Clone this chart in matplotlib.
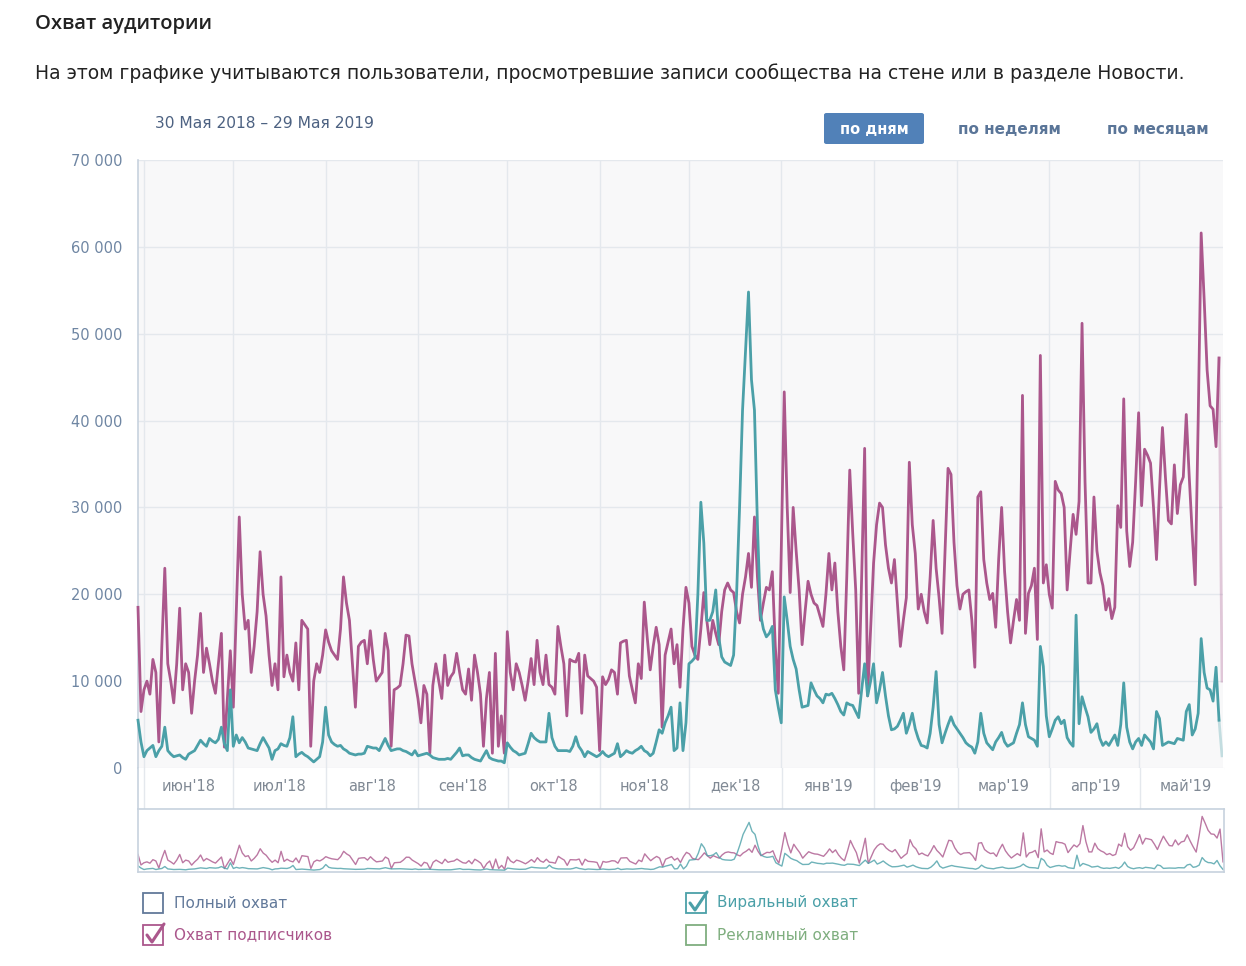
import numpy as np
import pandas as pd
import matplotlib
matplotlib.use("Agg")
import matplotlib.pyplot as plt
from matplotlib.patches import Rectangle, FancyBboxPatch
from matplotlib.lines import Line2D

W, H = 1246, 966

start_date = "2018-05-30"

# daily reach of subscribers, thousands (30 May 2018 .. 29 May 2019)
subscribers_k = [
    18.5, 6.5, 9, 10, 8.5, 12.5, 11, 3, 14, 23,
    12, 10, 7.5, 12, 18.4, 9, 12, 11, 6.3, 10,
    13, 17.8, 11, 13.8, 12, 10, 8.6, 12, 15.5, 2.4,
    8, 13.5, 7, 18, 28.9, 20, 16, 17, 11, 14,
    18, 24.9, 20, 17.5, 13, 9.5, 12, 9, 22, 10.5,
    13, 11, 10, 14.4, 9, 17, 16.5, 16, 2.5, 10,
    12, 11, 13, 15.9, 14.5, 13.5, 13, 12.5, 16, 22,
    19, 17, 12, 7, 14, 14.5, 14.7, 12, 15.8, 12.5,
    10, 10.5, 11, 15.5, 13.5, 2.5, 9, 9.2, 9.5, 12,
    15.3, 15.2, 12, 10, 8, 5.2, 9.5, 8.5, 1.7, 9.5,
    12, 10, 8, 13, 9.5, 10.5, 11, 13.2, 11, 9,
    8.5, 11.4, 7.8, 13, 11, 8.5, 2.5, 8, 11, 1.7,
    13.2, 2.5, 6, 1.7, 15.7, 11, 9, 12, 11, 9.5,
    7.8, 10, 12.6, 9.6, 14.7, 11, 9.6, 13, 9.6, 9.3,
    8.5, 16.3, 14, 12, 6, 12.5, 12.3, 12.2, 13.2, 6.3,
    13, 10.6, 10.3, 10, 9.3, 2, 10.5, 9.6, 10.2, 11.3,
    11, 8.5, 14.4, 14.6, 14.7, 10.6, 9, 7.5, 12, 10.3,
    19.1, 15, 11.3, 14, 16.2, 14.2, 4.7, 13, 14.5, 16,
    12, 14.2, 9.3, 16, 20.8, 19, 14, 13, 12.5, 16,
    20.2, 17, 14.2, 17, 15.5, 14.2, 18, 20.5, 21.3, 20.5,
    20.2, 18, 16.7, 20, 22, 24.7, 20.8, 28.9, 22, 17,
    19, 20.8, 20.5, 22.6, 14, 8.6, 25, 43.3, 30, 20.2,
    30, 25, 20.5, 14.2, 18, 21.5, 20, 19, 18.7, 17.5,
    16.3, 20, 24.7, 20.5, 23.6, 18, 14, 11.3, 22, 34.3,
    27, 20.5, 8.6, 22, 36.8, 8.3, 16, 23.6, 28, 30.5,
    30, 25.7, 23, 21.3, 24, 19, 14, 17, 19.6, 35.2,
    28, 24.7, 18.3, 20, 18, 16.7, 22, 28.5, 23, 19.6,
    15.5, 25, 34.5, 33.8, 26, 21, 18.3, 20, 20.3, 20.5,
    17, 11.6, 31.2, 31.8, 24, 21.3, 19.4, 20.1, 16.2, 24,
    30, 22.6, 18, 14.4, 17, 19.4, 17, 42.9, 15.5, 20.1,
    21, 23, 14.8, 47.5, 21.3, 23.4, 20, 18.4, 33, 32,
    31.6, 30, 20.5, 25, 29.2, 26.9, 30.7, 51.2, 33, 21.3,
    21.3, 31.2, 25, 22.5, 21, 18.2, 19.5, 17.2, 18.5, 30.2,
    27.7, 42.5, 27.3, 23.2, 26, 33, 40.9, 30.2, 36.7, 36,
    35.1, 30, 24, 32, 39.2, 33.5, 28.5, 28.1, 34.9, 29.3,
    32.6, 33.5, 40.7, 33.5, 27, 21.1, 40, 61.6, 54, 45.8,
    41.7, 41.3, 37, 47.2, 10,
]

# daily viral reach, thousands
viral_k = [
    5.5, 3, 1.3, 2, 2.3, 2.6, 1.3, 2, 2.5, 4.7,
    2, 1.6, 1.3, 1.4, 1.5, 1.2, 1, 1.6, 1.8, 2,
    2.6, 3.2, 2.8, 2.5, 3.4, 3.1, 2.9, 3.3, 4.7, 2.8,
    2, 9, 2.5, 3.8, 2.9, 3.5, 3, 2.3, 2.2, 2.1,
    2, 2.8, 3.5, 2.9, 2.3, 1, 2, 2.2, 2.8, 2.6,
    2.5, 3.5, 5.9, 1.3, 1.6, 1.8, 1.5, 1.3, 1, 0.7,
    1, 1.3, 3, 7, 3.8, 3, 2.7, 2.5, 2.6, 2.2,
    2, 1.7, 1.6, 1.5, 1.6, 1.6, 1.7, 2.5, 2.4, 2.3,
    2.3, 2, 2.7, 3.4, 2.6, 2, 2.1, 2.2, 2.2, 2,
    1.9, 1.7, 1.5, 2, 1.4, 1.5, 1.6, 1.7, 1.5, 1.2,
    1.1, 1, 1, 1, 1.1, 1, 1.4, 1.8, 2.3, 1.4,
    1.5, 1.5, 1.2, 1, 0.9, 0.8, 1.4, 2, 1.2, 1,
    0.9, 0.8, 0.8, 0.6, 2.9, 2.4, 2, 1.8, 1.5, 1.6,
    1.7, 2.8, 4, 3.5, 3.2, 3, 3, 3, 6.3, 3.5,
    2.5, 2, 2, 2, 2, 1.9, 2.5, 3.6, 2.5, 2,
    1.3, 1.9, 1.7, 1.5, 1.3, 1.5, 1.9, 1.5, 1.3, 1.5,
    1.7, 2.8, 1.3, 1.6, 2, 1.8, 1.7, 2, 2.2, 2.5,
    2, 1.8, 1.4, 1.7, 3, 4.4, 4, 5.2, 6, 7,
    2, 2.3, 7.5, 2, 5.2, 12, 12.3, 12.7, 20, 30.6,
    25.9, 17, 17, 18, 20.5, 15.1, 12.8, 12.2, 12, 11.8,
    13, 20, 30, 41.2, 48, 54.8, 44.7, 41.2, 28, 17.8,
    16, 15.1, 15.5, 16.3, 9, 7, 5.2, 19.7, 17, 14,
    12.5, 11.4, 9, 7, 7.1, 7.2, 9.8, 9, 8.3, 8,
    7.5, 8.5, 8.4, 8.6, 8, 7.3, 6.5, 6.1, 7.5, 7.3,
    7.2, 6.5, 5.8, 9, 12, 8.3, 10, 12, 7.5, 9,
    11, 8.3, 6, 4.4, 4.5, 4.8, 5.5, 6.3, 4, 5,
    6.3, 4.5, 3.4, 2.6, 2.5, 2.3, 4, 7, 11.1, 5,
    2.9, 4, 5, 5.9, 5, 4.5, 4, 3.5, 2.9, 2.6,
    2.4, 1.7, 3, 6.3, 4, 2.9, 2.5, 2.1, 3, 3.5,
    4.1, 3, 2.5, 2.7, 2.9, 4, 5, 7.5, 5, 3.6,
    3.4, 3.2, 2.5, 14, 11.7, 6, 3.6, 4.5, 5.5, 5.9,
    5.1, 5.5, 3.5, 2.9, 2.5, 17.6, 5.1, 8.2, 7, 5.9,
    4.1, 4.5, 5.1, 3.4, 2.6, 3, 2.6, 3.2, 3.8, 2.6,
    5, 9.8, 4.7, 3, 2.2, 3, 3.4, 2.6, 3.8, 3.4,
    3, 2.2, 6.5, 5.7, 2.6, 2.8, 3, 2.9, 2.8, 3.4,
    3.3, 3.2, 6.5, 7.3, 3.8, 4.5, 6.3, 14.9, 11, 9.2,
    9, 7.7, 11.6, 5.5, 1.4,
]

month_labels = ["июн'18", "июл'18", "авг'18", "сен'18", "окт'18", "ноя'18",
                "дек'18", "янв'19", "фев'19", "мар'19", "апр'19", "май'19"]
y_ticks = [0, 10000, 20000, 30000, 40000, 50000, 60000, 70000]
y_tick_labels = ["0", "10 000", "20 000", "30 000", "40 000", "50 000", "60 000", "70 000"]

legend_items = ["Полный охват", "Охват подписчиков", "Виральный охват", "Рекламный охват"]

PINK = "#ab578c"
TEAL = "#4ba0a8"
GRID = "#e4e8ed"
AXIS = "#c7d2de"


def rect(x0, y0, x1, y1):
    # pixel box (top-left origin) -> figure fraction
    return [x0 / W, 1 - y1 / H, (x1 - x0) / W, (y1 - y0) / H]


def fx(x):
    return x / W


def fy(y):
    return 1 - y / H


dates = pd.date_range(start_date, periods=len(subscribers_k), freq="D")
subs = np.array(subscribers_k) * 1000
viral = np.array(viral_k) * 1000

month_starts = pd.date_range("2018-06-01", "2019-05-01", freq="MS")
month_mids = [m + pd.Timedelta(days=m.days_in_month / 2) for m in month_starts]
xlim = (dates[0], dates[-1] + pd.Timedelta(hours=8))

fig = plt.figure(figsize=(W / 100, H / 100), dpi=100)
fig.patch.set_facecolor("white")

# main chart
ax = fig.add_axes(rect(138, 160, 1223, 768))
ax.set_facecolor("#f8f8f9")
ax.set_xlim(xlim)
ax.set_ylim(0, 70000)
for m in month_starts:
    ax.axvline(m, color=GRID, lw=1, zorder=0)
for t in y_ticks[1:]:
    ax.axhline(t, color=GRID, lw=1, zorder=0)
ax.plot(dates[:-1], subs[:-1], color=PINK, lw=2.0, zorder=3, solid_joinstyle="round", clip_on=False)
ax.plot(dates[-2:], subs[-2:], color=PINK, lw=2.0, alpha=0.3, zorder=3)
ax.plot(dates[:-1], viral[:-1], color=TEAL, lw=2.0, zorder=4, solid_joinstyle="round", clip_on=False)
ax.plot(dates[-2:], viral[-2:], color=TEAL, lw=2.0, alpha=0.3, zorder=4)
ax.set_yticks(y_ticks)
ax.set_yticklabels(y_tick_labels)
ax.set_xticks([])
ax.tick_params(axis="y", length=0, pad=11, labelsize=10.5, labelcolor="#6f86a3")
for s in ["top", "right"]:
    ax.spines[s].set_visible(False)
ax.spines["left"].set_color(AXIS)
ax.spines["left"].set_linewidth(1.2)
ax.spines["bottom"].set_color("#e1e5ea")

# month label band
band = fig.add_axes(rect(138, 768, 1224, 809))
band.set_facecolor("white")
band.set_xlim(xlim)
band.set_ylim(0, 1)
for m in month_starts:
    band.axvline(m, color=GRID, lw=1)
for mid, lab in zip(month_mids, month_labels):
    band.text(mid, 0.56, lab, ha="center", va="center", fontsize=10.5, color="#808994")
band.set_xticks([])
band.set_yticks([])
for s in ["top", "right"]:
    band.spines[s].set_visible(False)
band.spines["left"].set_color(AXIS)
band.spines["left"].set_linewidth(1.2)
band.spines["bottom"].set_color(AXIS)

# navigator
nav = fig.add_axes(rect(138, 809, 1224, 872))
nav.set_facecolor("white")
nav.set_xlim(xlim)
nav.set_ylim(-1500, 70000)
nav.plot(dates, subs, color=PINK, lw=1.0, alpha=0.8)
nav.plot(dates, viral, color=TEAL, lw=1.0, alpha=0.8)
nav.set_xticks([])
nav.set_yticks([])
for s in nav.spines.values():
    s.set_color(AXIS)
    s.set_linewidth(1.2)

# header
fig.text(fx(35), fy(24), "Охват аудитории", fontsize=14.5, fontweight="semibold",
         family="Open Sans", color="#222222", va="center")
fig.text(fx(35), fy(73), "На этом графике учитываются пользователи, просмотревшие записи "
         "сообщества на стене или в разделе Новости.", fontsize=13.5, family="DejaVu Sans",
         color="#222222", va="center")
fig.text(fx(155), fy(124), "30 Мая 2018 – 29 Мая 2019", fontsize=11.2,
         color="#4d6282", va="center")

# period buttons
fig.patches.append(FancyBboxPatch((fx(824), fy(144)), fx(924) - fx(824), fy(113) - fy(144),
                                  boxstyle="round,pad=0,rounding_size=0.002",
                                  transform=fig.transFigure, facecolor="#5181b8",
                                  edgecolor="none"))
fig.text(fx(874), fy(129), "по дням", fontsize=10.5, fontweight="bold", color="white",
         ha="center", va="center")
fig.text(fx(1009), fy(129), "по неделям", fontsize=11, fontweight="bold",
         color="#5a7598", ha="center", va="center")
fig.text(fx(1158), fy(129), "по месяцам", fontsize=11, fontweight="bold",
         color="#5a7598", ha="center", va="center")

# legend with checkboxes
legend_pos = [(143, 893), (143, 925), (686, 893), (686, 925)]
legend_colors = ["#62799a", PINK, TEAL, "#7fae7f"]
legend_checked = [False, True, True, False]
for (x, y), lab, col, chk in zip(legend_pos, legend_items, legend_colors, legend_checked):
    fig.patches.append(Rectangle((fx(x), fy(y + 20)), fx(x + 20) - fx(x), fy(y) - fy(y + 20),
                                 transform=fig.transFigure, facecolor="white",
                                 edgecolor=col, lw=1.3))
    if chk:
        fig.lines.append(Line2D([fx(x + 4), fx(x + 9), fx(x + 21)],
                                [fy(y + 10), fy(y + 17), fy(y - 1)],
                                transform=fig.transFigure, color=col, lw=2.2,
                                solid_capstyle="round", solid_joinstyle="round"))
    fig.text(fx(x + 31), fy(y + 10), lab, fontsize=11, color=col, va="center")

fig.savefig("out.png", dpi=100, facecolor="white")
